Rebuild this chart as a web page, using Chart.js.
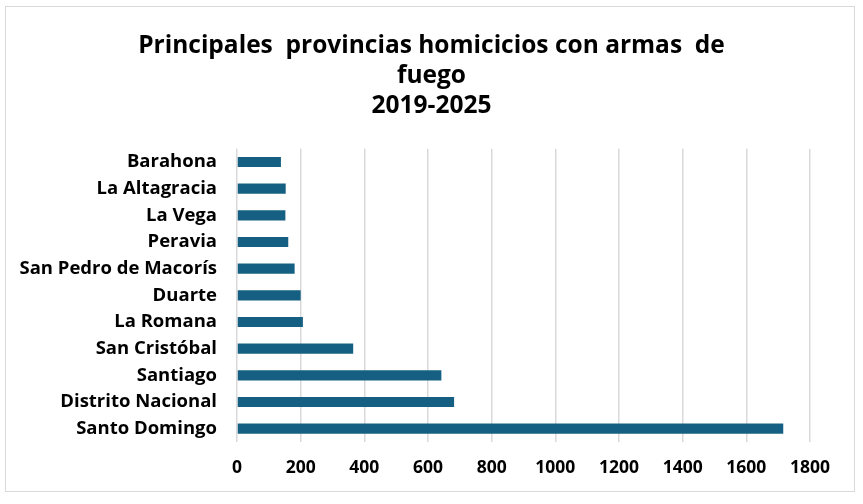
<!DOCTYPE html>
<html>
<head>
<meta charset="utf-8">
<script src="https://cdn.jsdelivr.net/npm/chart.js@4/dist/chart.umd.min.js"></script>
<style>
  html, body { margin: 0; padding: 0; background: #ffffff; }
  #wrap { position: relative; width: 863px; height: 504px; }
  #frame { position: absolute; left: 5px; top: 6px; width: 850px; height: 486px; border: 1px solid #d9d9d9; box-sizing: border-box; }
  canvas { position: absolute; left: 0; top: 0; }
</style>
</head>
<body>
<div id="wrap">
  <div id="frame"></div>
  <canvas id="c" width="863" height="504"></canvas>
</div>
<script>
const categories = ["Barahona", "La Altagracia", "La Vega", "Peravia", "San Pedro de Macorís", "Duarte", "La Romana", "San Cristóbal", "Santiago", "Distrito Nacional", "Santo Domingo"];
const homicidios = [138, 153, 152, 161, 181, 200, 207, 365, 642, 682, 1716];
const titleLines = ["Principales  provincias homicicios con armas  de", "fuego", "2019-2025"];
const xMax = 1800;
const xStep = 200;

const FONT = "'Open Sans', 'Liberation Sans', sans-serif";

new Chart(document.getElementById('c'), {
  type: 'bar',
  data: {
    labels: categories,
    datasets: [{
      data: homicidios,
      backgroundColor: '#156082',
      borderWidth: 0,
      categoryPercentage: 1.0,
      barPercentage: 0.38,
      xAxisID: 'x',
      yAxisID: 'y'
    }]
  },
  options: {
    indexAxis: 'y',
    responsive: false,
    animation: false,
    layout: { padding: { left: 0, right: 0, top: 0, bottom: 0 } },
    plugins: {
      legend: { display: false },
      tooltip: { enabled: false },
      title: {
        display: true,
        text: titleLines,
        color: '#000000',
        font: { family: FONT, size: 24.5, weight: 'bold', lineHeight: 1.22 },
        padding: { top: 31, bottom: 28 }
      }
    },
    scales: {
      x: {
        min: 0, max: xMax,
        ticks: { stepSize: xStep, color: '#000000', padding: 16, font: { family: FONT, size: 17.5, weight: 'bold' },
                 callback: (v) => String(v) },
        grid: { color: '#d9d9d9', lineWidth: 1.5, drawTicks: false },
        border: { display: false },
        afterFit: (s) => { s.height = 62; }
      },
      y: {
        ticks: { color: '#000000', padding: 20, font: { family: FONT, size: 18.5, weight: 'bold' } },
        grid: { display: false, drawTicks: false },
        border: { display: false },
        afterFit: (s) => { s.width = 237; }
      },
      yRight: {
        type: 'category',
        labels: categories,
        position: 'right',
        display: true,
        ticks: { display: false },
        grid: { display: false, drawTicks: false },
        border: { display: false },
        afterFit: (s) => { s.width = 53; }
      }
    }
  }
});
</script>
</body>
</html>
